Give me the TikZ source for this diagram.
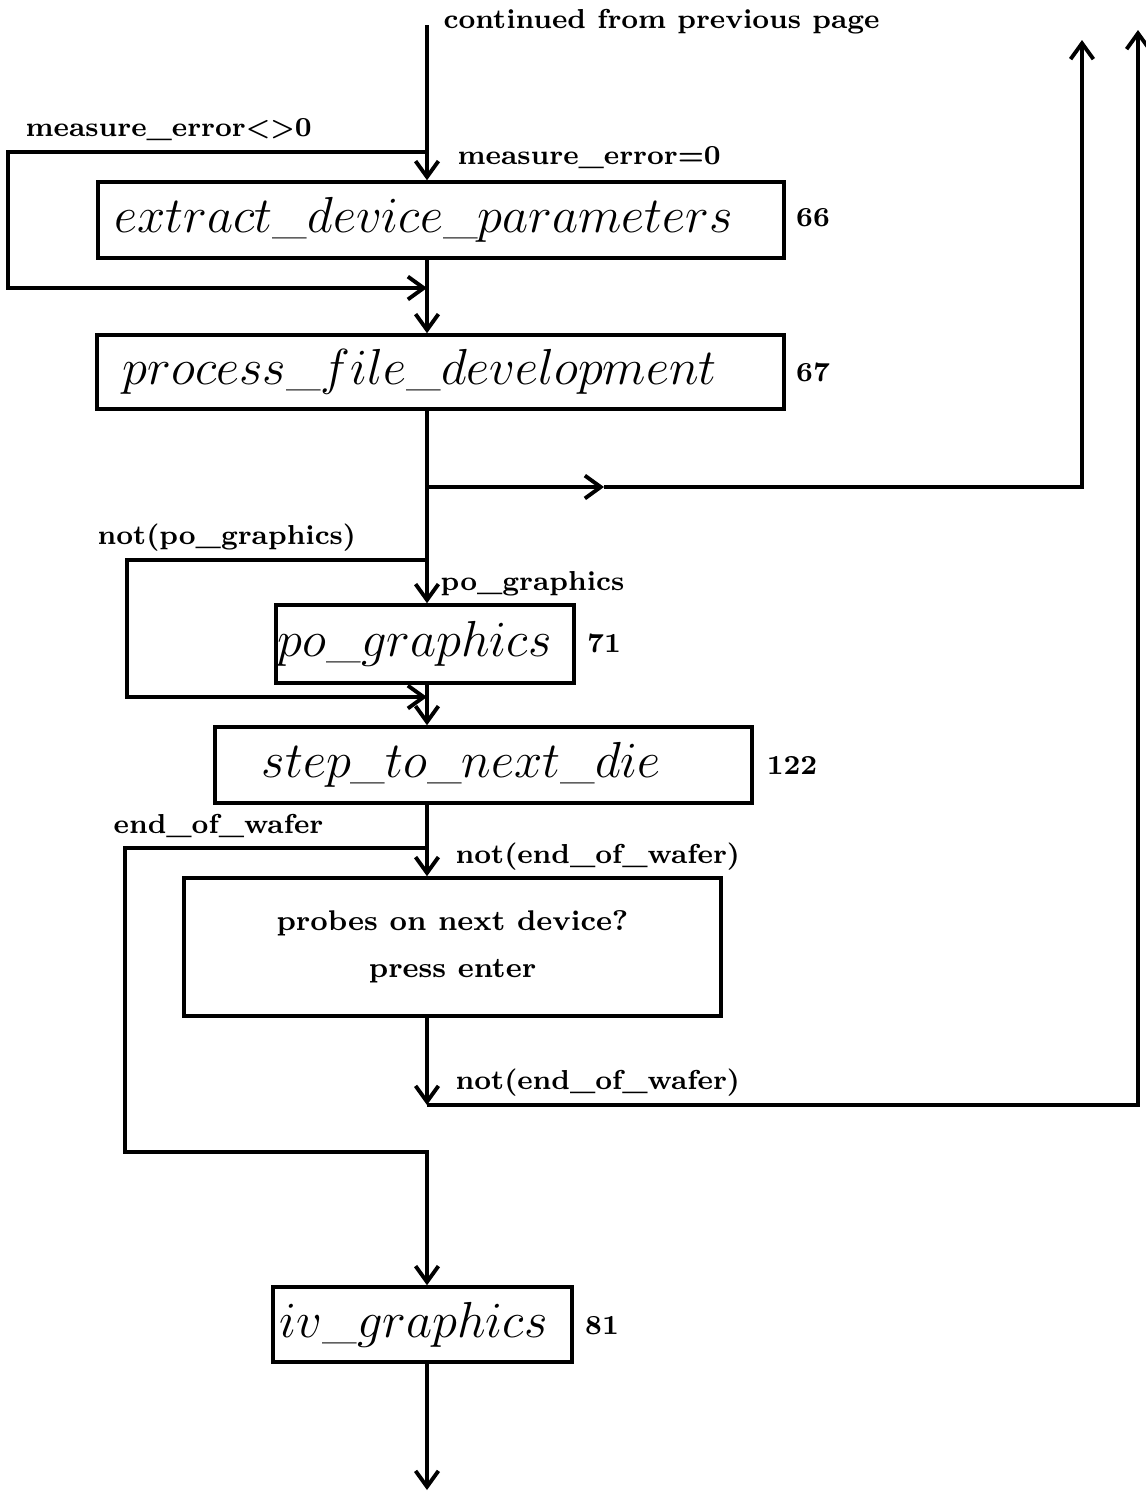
\documentclass[tikz,border=0pt]{standalone}
\usepackage{tikz}
\usetikzlibrary{arrows.meta}
\usetikzlibrary{positioning}

\begin{document}
\begin{tikzpicture}[x=0.01cm, y=-0.01cm]
  \tikzstyle{box}=[rectangle, draw=black, line width=1pt, inner ysep=0pt, align=left, font=\fontsize{13.4}{16}\selectfont]
  \tikzstyle{connect}=[-{Straight Barb[length=4.5pt, width=6.5pt, line width=1.1pt]}, line width=1pt]
  \tikzstyle{wire}=[line width=1pt]
  \tikzstyle{lbl}=[inner sep=0pt, anchor=west, font=\bfseries\fontsize{7.8}{9.5}\selectfont]
  \tikzstyle{num}=[inner sep=0pt, font=\bfseries\fontsize{7.8}{9.5}\selectfont]
  \useasboundingbox (0,0) rectangle (1146,1496);
    % process boxes
    \node[box, inner xsep=1.7mm, text width=65.2mm, minimum height=7.6mm] (extract) at (441,220) {$extract\_device\_parameters$};
    \node[box, inner xsep=2.6mm, text width=63.5mm, minimum height=7.4mm] (process) at (440.5,372) {$process\_file\_development$};
    \node[box, inner xsep=0.2mm, text width=29.4mm, minimum height=7.8mm] (po) at (425,644) {$po\_graphics$};
    \node[box, inner xsep=4.7mm, text width=44.3mm, minimum height=7.6mm] (step) at (483.5,765) {$step\_to\_next\_die$};
    \node[box, align=center, minimum width=53.7mm, minimum height=13.8mm, font=\bfseries\fontsize{8.1}{13.5}\selectfont] (probes) at (452.5,947) {probes on next device?\\press enter};
    \node[box, inner xsep=0.7mm, text width=28.5mm, minimum height=7.5mm] (iv) at (422.5,1324.5) {$iv\_graphics$};
    % numbers
    \node[num] (n66) at (813,218) {66};
    \node[num] (n67) at (813,372) {67};
    \node[num] (n71) at (604,643) {71};
    \node[num] (n122) at (792,765) {122};
    \node[num] (n81) at (602,1326) {81};
    % labels
    \node[lbl] (cont) at (443,22) {continued from previous page};
    \node[lbl] (merr) at (25,130) {measure\_error<>0};
    \node[lbl] (mok) at (457,158) {measure\_error=0};
    \node[lbl] (npo) at (97,538) {not(po\_graphics)};
    \node[lbl] (ypo) at (440,584) {po\_graphics};
    \node[lbl] (eow) at (113,826) {end\_of\_wafer};
    \node[lbl] (neow) at (455,857) {not(end\_of\_wafer)};
    \node[lbl] (neow2) at (455,1083) {not(end\_of\_wafer)};
    % junctions
    \coordinate (top) at (427,25);
    \coordinate (j1) at (427,152);
    \coordinate (j2) at (427,288);
    \coordinate (j3) at (427,487);
    \coordinate (mid) at (604,487);
    \coordinate (up1) at (1082,40);
    \coordinate (j4) at (427,560);
    \coordinate (j5) at (427,697);
    \coordinate (j6) at (427,848);
    \coordinate (j7) at (427,1152);
    \coordinate (j8) at (427,1105);
    \coordinate (up2) at (1138,30);
    \coordinate (bot) at (427,1490);
    % connectors
    \draw[connect] (top) -- (top |- extract.north);
    \draw[connect] (j1) -| (8,288) -- (j2);
    \draw[connect] (top |- extract.south) -- (top |- process.north);
    \draw[connect] (top |- process.south) -- (top |- po.north);
    \draw[connect] (j3) -- (mid);
    \draw[connect] (mid) -| (up1);
    \draw[connect] (j4) -| (127,697) -- (j5);
    \draw[connect] (top |- po.south) -- (top |- step.north);
    \draw[connect] (top |- step.south) -- (top |- probes.north);
    \draw[connect] (j6) -| (125,1152) -- (j7) -- (top |- iv.north);
    \draw[connect] (top |- probes.south) -- (j8);
    \draw[connect] (j8) -| (up2);
    \draw[connect] (top |- iv.south) -- (bot);
\end{tikzpicture}
\end{document}
